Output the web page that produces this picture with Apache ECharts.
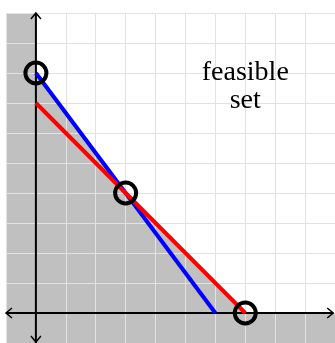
<!DOCTYPE html>
<html>
<head>
<meta charset="utf-8">
<script src="https://cdn.jsdelivr.net/npm/echarts@6/dist/echarts.min.js"></script>
<style>
  html, body { margin: 0; padding: 0; background: #fff; }
  #chart { width: 335px; height: 343px; }
</style>
</head>
<body>
<div id="chart"></div>
<script>
// constraint lines, corner points of the feasible set
const blueLine = [[0, 8], [6, 0]];
const redLine = [[0, 7], [7, 0]];
const vertices = [[0, 8], [3, 4], [7, 0]];
const xRange = [-1, 10];
const yRange = [-1, 10];
const label = 'feasible\nset';
const labelAt = [7, 7.55];

const chart = echarts.init(document.getElementById('chart'));

function poly (api, pts, style) {
  return {
    type: 'polygon',
    shape: { points: pts.map(p => api.coord(p)) },
    style: style
  };
}

function chevron (api, tip, dir) {
  const t = api.coord(tip);
  let a, b;
  if (dir === 'up') { a = [t[0] - 5, t[1] + 6]; b = [t[0] + 5, t[1] + 6]; }
  if (dir === 'down') { a = [t[0] - 5, t[1] - 6]; b = [t[0] + 5, t[1] - 6]; }
  if (dir === 'left') { a = [t[0] + 6, t[1] - 5]; b = [t[0] + 6, t[1] + 5]; }
  if (dir === 'right') { a = [t[0] - 6, t[1] - 5]; b = [t[0] - 6, t[1] + 5]; }
  return {
    type: 'polyline',
    shape: { points: [a, t, b] },
    style: { stroke: '#000', lineWidth: 1.5, fill: null }
  };
}

const gray = { fill: '#c0c0c0' };

const option = {
  animation: false,
  grid: { left: 6, top: 13, width: 332, height: 331 },
  xAxis: {
    type: 'value', min: xRange[0], max: xRange[1], interval: 1, z: 3,
    axisLine: { show: false }, axisTick: { show: false }, axisLabel: { show: false },
    splitLine: { show: true, lineStyle: { color: '#e2e2e2', width: 1 } }
  },
  yAxis: {
    type: 'value', min: yRange[0], max: yRange[1], interval: 1, z: 3,
    axisLine: { show: false }, axisTick: { show: false }, axisLabel: { show: false },
    splitLine: { show: true, lineStyle: { color: '#e2e2e2', width: 1 } }
  },
  series: [
    {
      // shaded area
      type: 'custom', z: 1, silent: true,
      data: [[0, 0]],
      renderItem: function (params, api) {
        return {
          type: 'group',
          children: [
            poly(api, [[xRange[0], yRange[0]], [0, yRange[0]], [0, yRange[1]], [xRange[0], yRange[1]]], gray),
            poly(api, [[xRange[0], yRange[0]], [xRange[1], yRange[0]], [xRange[1], 0], [xRange[0], 0]], gray),
            poly(api, [[0, 0]].concat(vertices), gray)
          ]
        };
      }
    },
    {
      // axes with arrows
      type: 'custom', z: 4, silent: true,
      data: [[0, 0]],
      renderItem: function (params, api) {
        const xEnd = 9.94;
        return {
          type: 'group',
          children: [
            { type: 'line', shape: { x1: api.coord([xRange[0], 0])[0], y1: api.coord([0, 0])[1], x2: api.coord([xEnd, 0])[0], y2: api.coord([0, 0])[1] }, style: { stroke: '#000', lineWidth: 2 } },
            { type: 'line', shape: { x1: api.coord([0, yRange[0]])[0], y1: api.coord([0, yRange[0]])[1], x2: api.coord([0, yRange[1]])[0], y2: api.coord([0, yRange[1]])[1] }, style: { stroke: '#000', lineWidth: 2 } },
            chevron(api, [xRange[0], 0], 'left'),
            chevron(api, [xEnd, 0], 'right'),
            chevron(api, [0, yRange[1]], 'up'),
            chevron(api, [0, -0.97], 'down')
          ]
        };
      }
    },
    {
      type: 'line', z: 5, data: blueLine, symbol: 'none',
      lineStyle: { color: '#0000ff', width: 4 }
    },
    {
      type: 'line', z: 6, data: redLine, symbol: 'none',
      lineStyle: { color: '#ff0000', width: 4 }
    },
    {
      type: 'scatter', z: 7, data: vertices, symbol: 'circle', symbolSize: 21,
      itemStyle: { color: 'rgba(0,0,0,0)', borderColor: '#000', borderWidth: 4, opacity: 1 }
    },
    {
      type: 'scatter', z: 7, data: [labelAt], symbolSize: 0,
      itemStyle: { opacity: 1 },
      label: {
        show: true, position: 'inside', formatter: label,
        fontFamily: 'Liberation Serif', fontSize: 28, lineHeight: 28,
        color: '#000', opacity: 1, align: 'center', verticalAlign: 'middle'
      }
    }
  ]
};

chart.setOption(option);
</script>
</body>
</html>
